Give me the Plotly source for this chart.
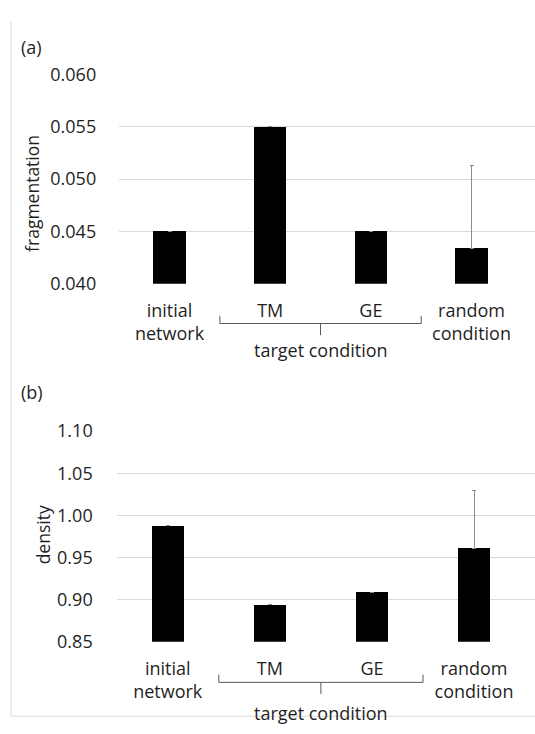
import plotly.graph_objects as go

categories = ["initial<br>network", "TM", "GE", "random<br>condition"]
cat_pos = [0, 1, 2, 3]

frag_values = [0.045, 0.055, 0.045, 0.0434]
frag_err = [None, None, None, 0.0079]
frag_ticks = [0.040, 0.045, 0.050, 0.055, 0.060]
frag_ticklabels = ["0.040", "0.045", "0.050", "0.055", "0.060"]

dens_values = [0.988, 0.894, 0.909, 0.961]
dens_err = [None, None, None, 0.069]
dens_ticks = [0.85, 0.90, 0.95, 1.00, 1.05, 1.10]
dens_ticklabels = ["0.85", "0.90", "0.95", "1.00", "1.05", "1.10"]

W, H = 535, 734
FONT = "Open Sans"
TXT = "#1f1f1f"
GRID = "#d9d9d9"

def py(px):
    return 1 - px / H

def px_x(px):
    return px / W

fig = go.Figure()

fig.add_trace(go.Bar(
    x=cat_pos, y=frag_values, width=0.32, marker=dict(color="black", line=dict(width=0)),
    error_y=dict(type="data", symmetric=False, array=frag_err, arrayminus=[0, 0, 0, 0],
                 color="#8c8c8c", thickness=1, width=2),
    xaxis="x", yaxis="y", showlegend=False, hoverinfo="skip"))

fig.add_trace(go.Bar(
    x=cat_pos, y=dens_values, width=0.31, marker=dict(color="black", line=dict(width=0)),
    error_y=dict(type="data", symmetric=False, array=dens_err, arrayminus=[0, 0, 0, 0],
                 color="#8c8c8c", thickness=1, width=2),
    xaxis="x2", yaxis="y2", showlegend=False, hoverinfo="skip"))

xcommon = dict(tickmode="array", tickvals=cat_pos, ticktext=categories,
               showgrid=False, zeroline=False, showline=False, ticks="",
               tickfont=dict(family=FONT, size=18, color=TXT))
ycommon = dict(showgrid=True, gridcolor=GRID, gridwidth=1, zeroline=False,
               showline=False, ticks="", tickfont=dict(family=FONT, size=18, color=TXT))

fig.update_layout(
    width=W, height=H, margin=dict(l=0, r=0, t=0, b=0),
    paper_bgcolor="white", plot_bgcolor="white", bargap=0,
    xaxis=dict(xcommon, domain=[px_x(119.2), 1], range=[-0.5, -0.5 + (535 - 119.2) / 100.67],
               anchor="y", ticklabelstandoff=14),
    yaxis=dict(ycommon, domain=[py(280), py(63.3)], range=[0.040, 0.060],
               tickvals=frag_ticks, ticktext=frag_ticklabels, anchor="x",
               ticklabelstandoff=22),
    xaxis2=dict(xcommon, domain=[px_x(116.7), 1], range=[-0.5, -0.5 + (535 - 116.7) / 102.1],
                anchor="y2", ticklabelstandoff=14),
    yaxis2=dict(ycommon, domain=[py(650), py(432.3)], range=[0.85, 1.10],
                tickvals=dens_ticks, ticktext=dens_ticklabels, anchor="x2",
                ticklabelstandoff=23),
)

annots = [
    dict(text="(a)", x=px_x(19), y=py(35), xanchor="left", yanchor="middle"),
    dict(text="(b)", x=px_x(19), y=py(392), xanchor="left", yanchor="middle"),
]
for a in annots:
    a.update(xref="paper", yref="paper", showarrow=False, font=dict(family=FONT, size=18, color=TXT))
fig.add_annotation(text="fragmentation", x=px_x(32), y=py(187), xref="paper", yref="paper",
                   textangle=-90, showarrow=False, xanchor="center", yanchor="middle",
                   font=dict(family=FONT, size=17.5, color=TXT))
fig.add_annotation(text="density", x=px_x(43), y=py(540), xref="paper", yref="paper",
                   textangle=-90, showarrow=False, xanchor="center", yanchor="middle",
                   font=dict(family=FONT, size=17.5, color=TXT))
for a in annots:
    fig.add_annotation(**a)

# bracket groups for "target condition"
for xr, ybar, ytop, ybot, ytxt in [("x", 321, 313, 333, 348), ("x2", 692, 684, 704, 723.5)]:
    line = dict(color="#595959", width=1)
    fig.add_shape(type="line", xref=xr, yref="paper", x0=0.5, x1=2.5, y0=py(ybar), y1=py(ybar), line=line)
    fig.add_shape(type="line", xref=xr, yref="paper", x0=0.5, x1=0.5, y0=py(ybar), y1=py(ytop), line=line)
    fig.add_shape(type="line", xref=xr, yref="paper", x0=2.5, x1=2.5, y0=py(ybar), y1=py(ytop), line=line)
    fig.add_shape(type="line", xref=xr, yref="paper", x0=1.5, x1=1.5, y0=py(ybar), y1=py(ybot), line=line)
    fig.add_annotation(text="target condition", xref=xr, yref="paper", x=1.5, y=py(ytxt),
                       showarrow=False, xanchor="center", yanchor="middle",
                       font=dict(family=FONT, size=18, color=TXT))

# chart border (left and bottom)
fig.add_shape(type="line", xref="paper", yref="paper", x0=px_x(11), x1=px_x(11), y0=py(9), y1=py(727),
              line=dict(color=GRID, width=1))
fig.add_shape(type="line", xref="paper", yref="paper", x0=px_x(11), x1=1, y0=py(727), y1=py(727),
              line=dict(color=GRID, width=1), layer="below")

fig.write_html(
    "out.html",
    config={"displayModeBar": False, "staticPlot": True},
    post_script=("document.body.style.margin='0';"
                 "document.body.style.overflow='hidden';"
                 "document.documentElement.style.overflow='hidden';"),
)
